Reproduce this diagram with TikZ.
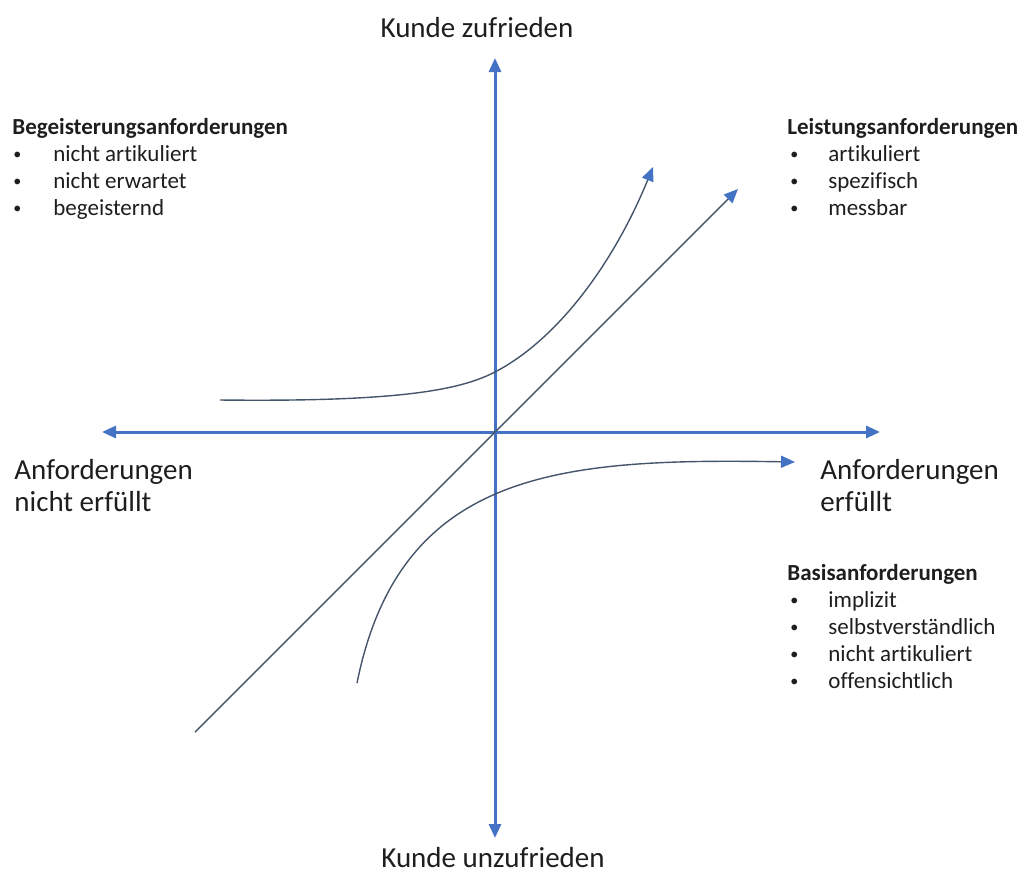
\documentclass[tikz,border=0pt]{standalone}
\usepackage{fontspec}
\setmainfont{Carlito}[Ligatures=CommonOff]
\usepackage{xcolor}
\usepackage{tikz}
\usetikzlibrary{arrows.meta}
\usetikzlibrary{positioning}
\definecolor{axisblue}{HTML}{4472C4}
\definecolor{curvegray}{HTML}{44546A}
\definecolor{textgray}{HTML}{1E1E1E}
\tikzstyle{axis} = [draw=axisblue, line width=1.5pt,
{Triangle[length=7pt,width=6pt]}-{Triangle[length=7pt,width=6pt]}]
\tikzstyle{curve} = [draw=curvegray, line width=0.7pt,
-{Triangle[length=7pt,width=6pt,color=axisblue]}]
\tikzstyle{biglabel} = [font=\fontsize{14.5}{16}\selectfont, text=textgray,
inner sep=0pt, align=left]
\tikzstyle{head} = [font=\fontsize{11.5}{13.5}\selectfont\bfseries, text=textgray,
inner sep=0pt, anchor=base west]
\tikzstyle{item} = [font=\fontsize{11.5}{13.5}\selectfont, text=textgray,
inner sep=0pt, anchor=base west]
\newcommand{\bul}[1][19pt]{\makebox[#1][l]{\raisebox{0.12ex}{\scalebox{0.7}{\textbullet}}}}

\begin{document}
\begin{tikzpicture}[x=0.5pt, y=-0.5pt]
		\useasboundingbox (0,0) rectangle (1020,873);
		%% Axes
		\coordinate (origin) at (495,432);
		\coordinate (ytop) at (495,58);
		\coordinate (ybot) at (495,838);
		\coordinate (xmin) at (102,432);
		\coordinate (xmax) at (880,432);
		\draw [axis] (ybot) -- (ytop);
		\draw [axis] (xmin) -- (xmax);
		%% Axis labels
		\node [biglabel, anchor=base] (zufrieden) at (477,37) {Kunde zufrieden};
		\node [biglabel, anchor=base] (unzufrieden) at (493,867) {Kunde unzufrieden};
		\node [biglabel, anchor=base west] (nichterfuellt) at (14,511) {Anforderungen\\nicht erfüllt};
		\node [biglabel, anchor=base west] (erfuellt) at (820,511) {Anforderungen\\erfüllt};
		%% Begeisterungsanforderungen
		\node [head] (beghead) at (12,134) {Begeisterungsanforderungen};
		\node [item] (beg1) at (13,161) {\bul[20pt]nicht artikuliert};
		\node [item] (beg2) at (13,188) {\bul[20pt]nicht erwartet};
		\node [item] (beg3) at (13,215) {\bul[20pt]begeisternd};
		%% Leistungsanforderungen
		\node [head] (leihead) at (787,134) {Leistungsanforderungen};
		\node [item] (lei1) at (790,161) {\bul artikuliert};
		\node [item] (lei2) at (790,188) {\bul spezifisch};
		\node [item] (lei3) at (790,215) {\bul messbar};
		%% Basisanforderungen
		\node [head] (bashead) at (787,580) {Basisanforderungen};
		\node [item] (bas1) at (790,607) {\bul implizit};
		\node [item] (bas2) at (790,634) {\bul selbstverständlich};
		\node [item] (bas3) at (790,661) {\bul nicht artikuliert};
		\node [item] (bas4) at (790,688) {\bul offensichtlich};
		%% Curves
		\coordinate (leistart) at (195,732);
		\coordinate (leiend) at (738,189);
		\coordinate (begstart) at (220,400);
		\coordinate (begmid) at (495,372);
		\coordinate (begend) at (653,167);
		\coordinate (basstart) at (357,683);
		\coordinate (basend) at (795,462);
		\path [curve] (leistart) -- (leiend);
		\path [curve] (begstart) .. controls (400,402) and (460,390) .. (begmid)
			.. controls (560,338) and (615,260) .. (begend);
		\path [curve] (basstart) .. controls (400,470) and (560,458) .. (basend);
\end{tikzpicture}
\end{document}
